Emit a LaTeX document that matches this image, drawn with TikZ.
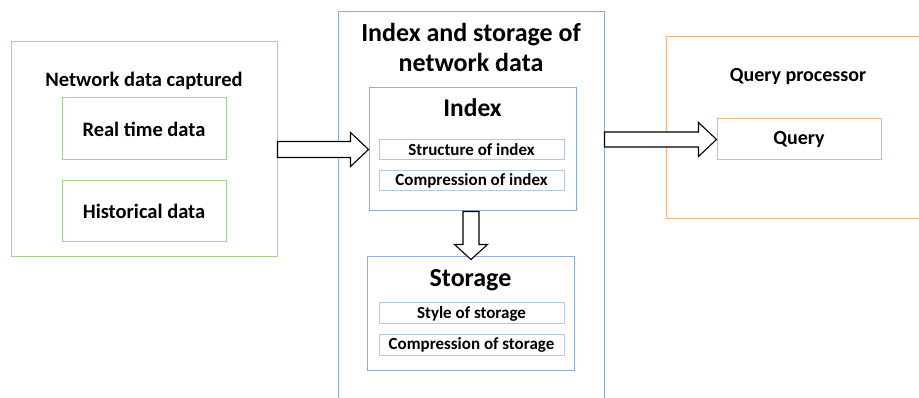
\documentclass[tikz,border=0pt]{standalone}
\usepackage{fontspec}
\setmainfont{Carlito}
\usetikzlibrary{calc,positioning}
\definecolor{boxgreen}{HTML}{A9D18E}
\definecolor{boxblue}{HTML}{8FAADC}
\definecolor{subblue}{HTML}{B4C7E7}
\definecolor{boxorange}{HTML}{F4B183}

\begin{document}
\begin{tikzpicture}[x=1pt,y=-1pt,
    box/.style={draw=#1,line width=1pt,inner sep=0pt,font=\bfseries},
    subbox/.style={draw=subblue,line width=1pt,inner sep=0pt,minimum width=185pt,font=\fontsize{17}{20}\selectfont\bfseries},
    blockarrow/.style={draw=black,fill=white,line width=1.1pt,line join=miter}]
        \useasboundingbox (0,0) rectangle (919,398);
        
        % Captured data
        \node[box=boxgreen,minimum width=266pt,minimum height=215pt] (net) at (144,149.5) {};
        \node[anchor=base,font=\fontsize{20.5}{24}\selectfont\bfseries] (nettitle) at (144,87) {Network data captured};
        \node[box=boxgreen,minimum width=164pt,minimum height=62pt,font=\fontsize{20.5}{24}\selectfont\bfseries] (real) at (144,129) {Real time data};
        \node[box=boxgreen,minimum width=164pt,minimum height=61pt,font=\fontsize{20.5}{24}\selectfont\bfseries] (hist) at (144,211.5) {Historical data};
        
        % Index and storage
        \node[box=boxblue,minimum width=266pt,minimum height=398pt] (mid) at (471,211) {};
        \node[anchor=base,font=\fontsize{26}{30}\selectfont\bfseries] (midtitle) at (471,42) {Index and storage of};
        \node[anchor=base,font=\fontsize{26}{30}\selectfont\bfseries] (midtitleb) at (471,72) {network data};
        \node[box=boxblue,minimum width=207pt,minimum height=123pt] (idx) at (472.5,149.5) {};
        \node[anchor=base,font=\fontsize{25.5}{30}\selectfont\bfseries] (idxtitle) at (472.5,117) {Index};
        \node[subbox,minimum height=20pt] (structidx) at (471.5,150) {Structure of index};
        \node[subbox,minimum height=20pt] (compidx) at (471.5,181) {Compression of index};
        \node[box=boxblue,minimum width=207pt,minimum height=113pt] (stor) at (470.5,313.5) {};
        \node[anchor=base,font=\fontsize{26}{30}\selectfont\bfseries] (stortitle) at (470.5,287) {Storage};
        \node[subbox,minimum height=21pt] (stylestor) at (471.5,313.5) {Style of storage};
        \node[subbox,minimum height=21pt] (compstor) at (471.5,344.5) {Compression of storage};
        
        % Query
        \node[box=boxorange,minimum width=259pt,minimum height=182pt] (qp) at (795.5,128) {};
        \node[anchor=base,font=\fontsize{20}{24}\selectfont\bfseries] (qptitle) at (798,82) {Query processor};
        \node[box=boxorange,minimum width=164pt,minimum height=41pt,font=\fontsize{20}{24}\selectfont\bfseries] (query) at (799,139.5) {Query};
        
        % Arrows
        \draw[blockarrow] ($(net.east)+(0,-8)$) -- ($(idx.west)+(-18,-8)$) -- ($(idx.west)+(-18,-17)$)
            -- (idx.west) -- ($(idx.west)+(-18,17)$) -- ($(idx.west)+(-18,8)$) -- ($(net.east)+(0,8)$) -- cycle;
        \coordinate (qstart) at (mid.east |- query.west);
        \draw[blockarrow] ($(qstart)+(0,-7.5)$) -- ($(query.west)+(-18,-7.5)$) -- ($(query.west)+(-18,-17)$)
            -- (query.west) -- ($(query.west)+(-18,17)$) -- ($(query.west)+(-18,7.5)$) -- ($(qstart)+(0,7.5)$) -- cycle;
        \coordinate (stip) at ($(stor.north)+(0.5,3)$);
        \coordinate (sstart) at (idx.south -| stip);
        \draw[blockarrow] ($(sstart)+(-8,0)$) -- ($(stip)+(-8,-15)$) -- ($(stip)+(-16.5,-15)$)
            -- (stip) -- ($(stip)+(16.5,-15)$) -- ($(stip)+(8,-15)$) -- ($(sstart)+(8,0)$) -- cycle;
    \end{tikzpicture}
\end{document}
